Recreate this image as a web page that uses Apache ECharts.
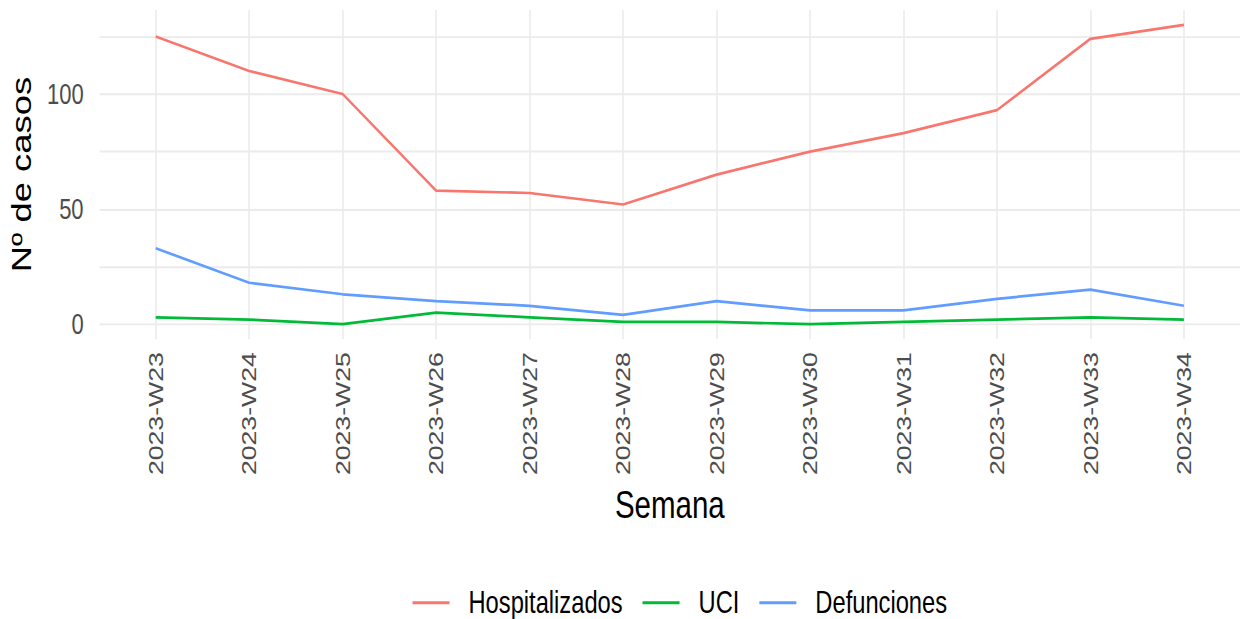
<!DOCTYPE html>
<html>
<head>
<meta charset="utf-8">
<script src="https://cdn.jsdelivr.net/npm/echarts@6/dist/echarts.min.js"></script>
<style>
  html, body { margin: 0; padding: 0; background: #fff; overflow: hidden; }
  #wrap { width: 1240px; height: 619px; overflow: hidden; }
  #chart { width: 1240px; height: 476px; transform: scaleY(1.3004); transform-origin: 0 0; }
</style>
</head>
<body>
<div id="wrap"><div id="chart"></div></div>
<script>
const weeks = ['2023-W23','2023-W24','2023-W25','2023-W26','2023-W27','2023-W28','2023-W29','2023-W30','2023-W31','2023-W32','2023-W33','2023-W34'];
const hospitalizados = [125, 110, 100, 58, 57, 52, 65, 75, 83, 93, 124, 130];
const uci = [3, 2, 0, 5, 3, 1, 1, 0, 1, 2, 3, 2];
const defunciones = [33, 18, 13, 10, 8, 4, 10, 6, 6, 11, 15, 8];
const yTickLabels = [0, 50, 100];
const yGridValues = [0, 25, 50, 75, 100, 125];

const seriesNames = ['Hospitalizados', 'UCI', 'Defunciones'];
const seriesColors = ['#F8766D', '#00BA38', '#619CFF'];
const seriesData = [hospitalizados, uci, defunciones];

const FONT = 'Liberation Sans, Arial, sans-serif';
const chart = echarts.init(document.getElementById('chart'), null, { renderer: 'svg' });

chart.setOption({
  animation: false,
  backgroundColor: '#ffffff',
  grid: { left: 99, top: 7.7, width: 1143, height: 253.1, containLabel: false },
  legend: {
    data: seriesNames,
    left: 407.5,
    top: 446.5,
    orient: 'horizontal',
    icon: 'rect',
    itemWidth: 37,
    itemHeight: 2.4,
    itemGap: 20,
    textStyle: { fontFamily: FONT, fontSize: 23.7, color: '#000', padding: [0, 0, 0, 14] }
  },
  xAxis: {
    type: 'value',
    min: -0.6,
    max: 11.6,
    name: 'Semana',
    nameLocation: 'middle',
    nameGap: 124,
    nameTextStyle: { fontFamily: FONT, fontSize: 29.5, color: '#000', verticalAlign: 'middle' },
    axisLine: { show: false },
    axisTick: { show: false, customValues: weeks.map((w, i) => i) },
    axisLabel: {
      customValues: weeks.map((w, i) => i),
      rotate: 90,
      margin: 10,
      fontFamily: FONT,
      fontSize: 20.5,
      color: '#4D4D4D',
      formatter: v => weeks[Math.round(v)]
    },
    splitLine: { show: true, lineStyle: { color: '#EBEBEB', width: 1.6 } }
  },
  yAxis: {
    type: 'value',
    min: -6.5,
    max: 136.5,
    name: 'Nº de casos',
    nameLocation: 'middle',
    nameGap: 77,
    nameRotate: 90,
    nameTextStyle: { fontFamily: FONT, fontSize: 28, color: '#000', verticalAlign: 'middle' },
    axisLine: { show: false },
    axisTick: { show: false, customValues: yGridValues },
    axisLabel: {
      customValues: yTickLabels,
      margin: 16,
      fontFamily: FONT,
      fontSize: 22,
      color: '#4D4D4D'
    },
    splitLine: { show: true, lineStyle: { color: '#EBEBEB', width: 1.4 } }
  },
  series: seriesNames.map((name, k) => ({
    name: name,
    type: 'line',
    symbol: 'none',
    color: seriesColors[k],
    lineStyle: { color: seriesColors[k], width: 2.1 },
    data: seriesData[k].map((v, i) => [i, v])
  }))
});
</script>
</body>
</html>
